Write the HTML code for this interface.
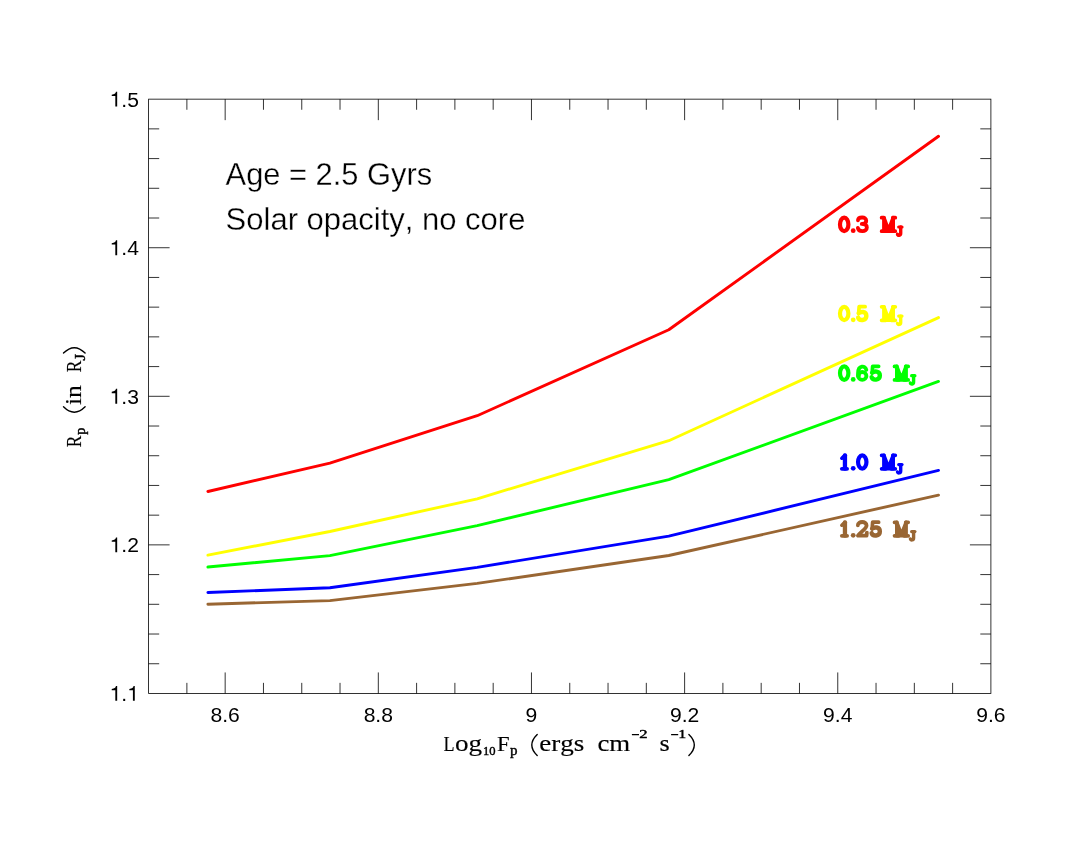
<!DOCTYPE html>
<html><head><meta charset="utf-8"><title>Rp vs Fp</title><style>
html,body{margin:0;padding:0;background:#fff;}
svg{display:block;will-change:transform;}
text{font-family:"Liberation Sans",sans-serif;fill:#000;font-kerning:none;font-variant-ligatures:none;}
.ser{font-family:"Liberation Serif",serif;}
</style></head><body>
<svg width="1090" height="842" viewBox="0 0 1090 842">
<rect x="0" y="0" width="1090" height="842" fill="#ffffff"/>
<rect x="148.6" y="99.15" width="842.3" height="594.3000000000001" fill="none" stroke="#000" stroke-width="0.8"/>
<path d="M186.89 693.45v-10.6M186.89 99.15v10.6M225.17 693.45v-21.0M225.17 99.15v21.0M263.46 693.45v-10.6M263.46 99.15v10.6M301.75 693.45v-10.6M301.75 99.15v10.6M340.03 693.45v-10.6M340.03 99.15v10.6M378.32 693.45v-21.0M378.32 99.15v21.0M416.60 693.45v-10.6M416.60 99.15v10.6M454.89 693.45v-10.6M454.89 99.15v10.6M493.18 693.45v-10.6M493.18 99.15v10.6M531.46 693.45v-21.0M531.46 99.15v21.0M569.75 693.45v-10.6M569.75 99.15v10.6M608.04 693.45v-10.6M608.04 99.15v10.6M646.32 693.45v-10.6M646.32 99.15v10.6M684.61 693.45v-21.0M684.61 99.15v21.0M722.90 693.45v-10.6M722.90 99.15v10.6M761.18 693.45v-10.6M761.18 99.15v10.6M799.47 693.45v-10.6M799.47 99.15v10.6M837.75 693.45v-21.0M837.75 99.15v21.0M876.04 693.45v-10.6M876.04 99.15v10.6M914.33 693.45v-10.6M914.33 99.15v10.6M952.61 693.45v-10.6M952.61 99.15v10.6M148.6 663.74h10.6M990.9 663.74h-10.6M148.6 634.02h10.6M990.9 634.02h-10.6M148.6 604.30h10.6M990.9 604.30h-10.6M148.6 574.59h10.6M990.9 574.59h-10.6M148.6 544.87h21.0M990.9 544.87h-21.0M148.6 515.16h10.6M990.9 515.16h-10.6M148.6 485.44h10.6M990.9 485.44h-10.6M148.6 455.73h10.6M990.9 455.73h-10.6M148.6 426.02h10.6M990.9 426.02h-10.6M148.6 396.30h21.0M990.9 396.30h-21.0M148.6 366.58h10.6M990.9 366.58h-10.6M148.6 336.87h10.6M990.9 336.87h-10.6M148.6 307.15h10.6M990.9 307.15h-10.6M148.6 277.44h10.6M990.9 277.44h-10.6M148.6 247.72h21.0M990.9 247.72h-21.0M148.6 218.01h10.6M990.9 218.01h-10.6M148.6 188.29h10.6M990.9 188.29h-10.6M148.6 158.58h10.6M990.9 158.58h-10.6M148.6 128.87h10.6M990.9 128.87h-10.6" fill="none" stroke="#000" stroke-width="0.8"/>
<g font-size="21.1" text-anchor="middle">
<text x="225.17" y="721.6">8.6</text>
<text x="378.32" y="721.6">8.8</text>
<text x="531.46" y="721.6">9</text>
<text x="684.61" y="721.6">9.2</text>
<text x="837.75" y="721.6">9.4</text>
<text x="990.90" y="721.6">9.6</text>
</g>
<g font-size="21.1">
<path transform="translate(109.60 700.85) scale(0.02110 -0.02110)" d="M359 0L359 703L302 703C281 622 232 577 101 563L101 500L271 500L271 0Z" fill="#000"/><text x="121.33" y="700.85">.</text><path transform="translate(127.20 700.85) scale(0.02110 -0.02110)" d="M359 0L359 703L302 703C281 622 232 577 101 563L101 500L271 500L271 0Z" fill="#000"/>
<path transform="translate(109.60 552.28) scale(0.02110 -0.02110)" d="M359 0L359 703L302 703C281 622 232 577 101 563L101 500L271 500L271 0Z" fill="#000"/><text x="121.33" y="552.28">.2</text>
<path transform="translate(109.60 403.70) scale(0.02110 -0.02110)" d="M359 0L359 703L302 703C281 622 232 577 101 563L101 500L271 500L271 0Z" fill="#000"/><text x="121.33" y="403.70">.3</text>
<path transform="translate(109.60 255.13) scale(0.02110 -0.02110)" d="M359 0L359 703L302 703C281 622 232 577 101 563L101 500L271 500L271 0Z" fill="#000"/><text x="121.33" y="255.13">.4</text>
<path transform="translate(109.60 106.55) scale(0.02110 -0.02110)" d="M359 0L359 703L302 703C281 622 232 577 101 563L101 500L271 500L271 0Z" fill="#000"/><text x="121.33" y="106.55">.5</text>
</g>
<polyline points="207.9,491.5 329.9,463.1 477.2,415.7 668.8,329.7 938.5,136.3" fill="none" stroke="#ff0000" stroke-width="2.9" stroke-linecap="round" stroke-linejoin="round"/>
<polyline points="207.9,555.1 329.9,531.5 477.2,498.8 668.8,440.7 938.5,317.6" fill="none" stroke="#ffff00" stroke-width="2.9" stroke-linecap="round" stroke-linejoin="round"/>
<polyline points="207.9,567.0 329.9,555.6 477.2,525.6 668.8,479.7 938.5,381.4" fill="none" stroke="#00ff00" stroke-width="2.9" stroke-linecap="round" stroke-linejoin="round"/>
<polyline points="207.9,592.5 329.9,587.8 477.2,567.4 668.8,536.1 938.5,470.4" fill="none" stroke="#0000ff" stroke-width="2.9" stroke-linecap="round" stroke-linejoin="round"/>
<polyline points="207.9,604.2 329.9,600.6 477.2,583.4 668.8,555.5 938.5,495.1" fill="none" stroke="#996633" stroke-width="2.9" stroke-linecap="round" stroke-linejoin="round"/>
<text x="225.6" y="184.8" font-size="30.85" stroke="#fff" stroke-width="0.3">Age = 2.5 Gyrs</text>
<text x="225.6" y="229.9" font-size="31" stroke="#fff" stroke-width="0.3">Solar opacity, no core</text>
<g fill="none" stroke="#ff0000" color="#ff0000" stroke-linecap="round" stroke-linejoin="round"><g transform="translate(837.90 233.1)"><ellipse cx="6.3" cy="-8.7" rx="4.2" ry="6.7" stroke-width="4.2"/></g><g transform="translate(850.80 233.1)"><circle cx="2.4" cy="-2.4" r="2.4" fill="currentColor" stroke="none"/></g><g transform="translate(855.95 233.1)"><path d="M2 -12.8C2.5 -16.6 10.3 -16.6 10.3 -12.4C10.3 -10 8 -9.2 5.8 -9.2C8.5 -9.2 10.9 -8.3 10.9 -5.6C10.9 -0.8 2.6 -0.8 1.9 -5.2" stroke-width="3.8"/></g><g transform="translate(879.80 233.1)"><path d="M4.1 -15.4L8.7 -3.2L13.4 -15.4L13.4 -1.9L4.1 -1.9Z" fill="currentColor" stroke-width="3.6"/><path d="M1.8 -15.4L4.2 -15.4M13 -15.4L15.5 -15.4M1.8 -1.9L6 -1.9M11.5 -1.9L15.5 -1.9" stroke-width="3.7"/></g><g transform="translate(897.10 236.9)"><path d="M1.6 -9.9L4.9 -9.9" stroke-width="3.2"/><path d="M3.6 -9.9L3.6 -3.6C3.6 -1.2 0.6 -1 0.4 -2.6" stroke-width="3.4"/></g></g>
<g fill="none" stroke="#ffff00" color="#ffff00" stroke-linecap="round" stroke-linejoin="round"><g transform="translate(837.90 322.2)"><ellipse cx="6.3" cy="-8.7" rx="4.2" ry="6.7" stroke-width="4.2"/></g><g transform="translate(850.80 322.2)"><circle cx="2.4" cy="-2.4" r="2.4" fill="currentColor" stroke="none"/></g><g transform="translate(855.95 322.2)"><path d="M9.2 -15.5L3.2 -15.5L2.7 -9" stroke-width="3.7"/><path d="M2.7 -9C4.5 -10.8 10.4 -11.2 10.4 -6.3C10.4 -1.2 3.2 -1.1 2.2 -4.6" stroke-width="4.4"/></g><g transform="translate(879.80 322.2)"><path d="M4.1 -15.4L8.7 -3.2L13.4 -15.4L13.4 -1.9L4.1 -1.9Z" fill="currentColor" stroke-width="3.6"/><path d="M1.8 -15.4L4.2 -15.4M13 -15.4L15.5 -15.4M1.8 -1.9L6 -1.9M11.5 -1.9L15.5 -1.9" stroke-width="3.7"/></g><g transform="translate(897.10 326.0)"><path d="M1.6 -9.9L4.9 -9.9" stroke-width="3.2"/><path d="M3.6 -9.9L3.6 -3.6C3.6 -1.2 0.6 -1 0.4 -2.6" stroke-width="3.4"/></g></g>
<g fill="none" stroke="#00ff00" color="#00ff00" stroke-linecap="round" stroke-linejoin="round"><g transform="translate(837.90 381.8)"><ellipse cx="6.3" cy="-8.7" rx="4.2" ry="6.7" stroke-width="4.2"/></g><g transform="translate(850.80 381.8)"><circle cx="2.4" cy="-2.4" r="2.4" fill="currentColor" stroke="none"/></g><g transform="translate(855.95 381.8)"><path d="M10.4 -11.9C9.6 -16.4 2.1 -17 2.1 -8.5L2.1 -5.9" stroke-width="3.8"/><path d="M2.9 -10L2.9 -5.9" stroke-width="3.8"/><ellipse cx="6.3" cy="-5.9" rx="4.15" ry="3.9" stroke-width="3.8"/></g><g transform="translate(869.45 381.8)"><path d="M9.2 -15.5L3.2 -15.5L2.7 -9" stroke-width="3.7"/><path d="M2.7 -9C4.5 -10.8 10.4 -11.2 10.4 -6.3C10.4 -1.2 3.2 -1.1 2.2 -4.6" stroke-width="4.4"/></g><g transform="translate(892.70 381.8)"><path d="M4.1 -15.4L8.7 -3.2L13.4 -15.4L13.4 -1.9L4.1 -1.9Z" fill="currentColor" stroke-width="3.6"/><path d="M1.8 -15.4L4.2 -15.4M13 -15.4L15.5 -15.4M1.8 -1.9L6 -1.9M11.5 -1.9L15.5 -1.9" stroke-width="3.7"/></g><g transform="translate(910.00 385.6)"><path d="M1.6 -9.9L4.9 -9.9" stroke-width="3.2"/><path d="M3.6 -9.9L3.6 -3.6C3.6 -1.2 0.6 -1 0.4 -2.6" stroke-width="3.4"/></g></g>
<g fill="none" stroke="#0000ff" color="#0000ff" stroke-linecap="round" stroke-linejoin="round"><g transform="translate(837.90 470.7)"><path d="M7.05 -15.4L7.05 -2" stroke-width="4.3"/><path d="M3.95 -12.5L7.05 -15.4" stroke-width="3.6"/><path d="M3.95 -1.9L9.2 -1.9" stroke-width="3.8"/></g><g transform="translate(850.80 470.7)"><circle cx="2.4" cy="-2.4" r="2.4" fill="currentColor" stroke="none"/></g><g transform="translate(855.95 470.7)"><ellipse cx="6.3" cy="-8.7" rx="4.2" ry="6.7" stroke-width="4.2"/></g><g transform="translate(879.80 470.7)"><path d="M4.1 -15.4L8.7 -3.2L13.4 -15.4L13.4 -1.9L4.1 -1.9Z" fill="currentColor" stroke-width="3.6"/><path d="M1.8 -15.4L4.2 -15.4M13 -15.4L15.5 -15.4M1.8 -1.9L6 -1.9M11.5 -1.9L15.5 -1.9" stroke-width="3.7"/></g><g transform="translate(897.10 474.5)"><path d="M1.6 -9.9L4.9 -9.9" stroke-width="3.2"/><path d="M3.6 -9.9L3.6 -3.6C3.6 -1.2 0.6 -1 0.4 -2.6" stroke-width="3.4"/></g></g>
<g fill="none" stroke="#996633" color="#996633" stroke-linecap="round" stroke-linejoin="round"><g transform="translate(837.90 537.7)"><path d="M7.05 -15.4L7.05 -2" stroke-width="4.3"/><path d="M3.95 -12.5L7.05 -15.4" stroke-width="3.6"/><path d="M3.95 -1.9L9.2 -1.9" stroke-width="3.8"/></g><g transform="translate(850.80 537.7)"><circle cx="2.4" cy="-2.4" r="2.4" fill="currentColor" stroke="none"/></g><g transform="translate(855.95 537.7)"><path d="M1.9 -12.4C1.9 -16.8 10.6 -16.8 10.6 -12.3C10.6 -9 5 -6 2 -2L10.6 -2L10.9 -5" stroke-width="3.8"/></g><g transform="translate(869.45 537.7)"><path d="M9.2 -15.5L3.2 -15.5L2.7 -9" stroke-width="3.7"/><path d="M2.7 -9C4.5 -10.8 10.4 -11.2 10.4 -6.3C10.4 -1.2 3.2 -1.1 2.2 -4.6" stroke-width="4.4"/></g><g transform="translate(892.70 537.7)"><path d="M4.1 -15.4L8.7 -3.2L13.4 -15.4L13.4 -1.9L4.1 -1.9Z" fill="currentColor" stroke-width="3.6"/><path d="M1.8 -15.4L4.2 -15.4M13 -15.4L15.5 -15.4M1.8 -1.9L6 -1.9M11.5 -1.9L15.5 -1.9" stroke-width="3.7"/></g><g transform="translate(910.00 541.5)"><path d="M1.6 -9.9L4.9 -9.9" stroke-width="3.2"/><path d="M3.6 -9.9L3.6 -3.6C3.6 -1.2 0.6 -1 0.4 -2.6" stroke-width="3.4"/></g></g>
<g class="ser" stroke="#000" stroke-width="0.15" stroke-linejoin="round">
<text class="ser" x="443.5" y="751.3" font-size="22" textLength="11.1" lengthAdjust="spacingAndGlyphs">L</text>
<text class="ser" x="455.0" y="751.3" font-size="23.2" textLength="27.1" lengthAdjust="spacingAndGlyphs">og</text>
<text class="ser" x="483.0" y="754.5" font-size="12.5" textLength="12.6" lengthAdjust="spacingAndGlyphs" stroke-width="0.4">10</text>
<text class="ser" x="497.1" y="751.3" font-size="22" textLength="12.6" lengthAdjust="spacingAndGlyphs">F</text>
<text class="ser" x="509.9" y="754.7" font-size="14" textLength="7.5" lengthAdjust="spacingAndGlyphs" stroke-width="0.4">p</text>
<text class="ser" x="539.3" y="751.3" font-size="23.2" textLength="45.1" lengthAdjust="spacingAndGlyphs">ergs</text>
<text class="ser" x="597.4" y="751.3" font-size="23.2" textLength="32.8" lengthAdjust="spacingAndGlyphs">cm</text>
<text class="ser" x="639.3" y="738.4" font-size="12" textLength="8.3" lengthAdjust="spacingAndGlyphs" stroke-width="0.4">2</text>
<text class="ser" x="659.6" y="751.3" font-size="23.2" textLength="10.2" lengthAdjust="spacingAndGlyphs">s</text>
<text class="ser" x="678.3" y="738.4" font-size="12" textLength="8.0" lengthAdjust="spacingAndGlyphs" stroke-width="0.4">1</text>
<path d="M631.9 734.6H639M671.1 734.6H678.2" stroke-width="1.3" fill="none"/><path d="M537.2 734.4Q526.4 745 537.2 755.5M688.9 734.4Q699.7 745 688.9 755.5" stroke-width="1.4" fill="none" stroke-linecap="round"/>
</g>
<g class="ser" transform="translate(81 447.1) rotate(-90)" stroke="#000" stroke-width="0.15" stroke-linejoin="round">
<text class="ser" x="-0.2" y="0" font-size="22" textLength="11.6" lengthAdjust="spacingAndGlyphs">R</text>
<text class="ser" x="12.4" y="3.7" font-size="14" textLength="7.1" lengthAdjust="spacingAndGlyphs" stroke-width="0.4">p</text>
<text class="ser" x="42.0" y="0" font-size="23.2" textLength="19.9" lengthAdjust="spacingAndGlyphs">in</text>
<text class="ser" x="74.8" y="0" font-size="22" textLength="11.6" lengthAdjust="spacingAndGlyphs">R</text>
<text class="ser" x="86.7" y="4.0" font-size="14.5" textLength="6.6" lengthAdjust="spacingAndGlyphs" stroke-width="0.4">J</text>
<path d="M40.3 -17.5Q29.5 -6.7 40.3 4.1M94 -17.5Q104.8 -6.7 94 4.1" stroke-width="1.4" fill="none" stroke-linecap="round"/>
</g>
</svg>
</body></html>
